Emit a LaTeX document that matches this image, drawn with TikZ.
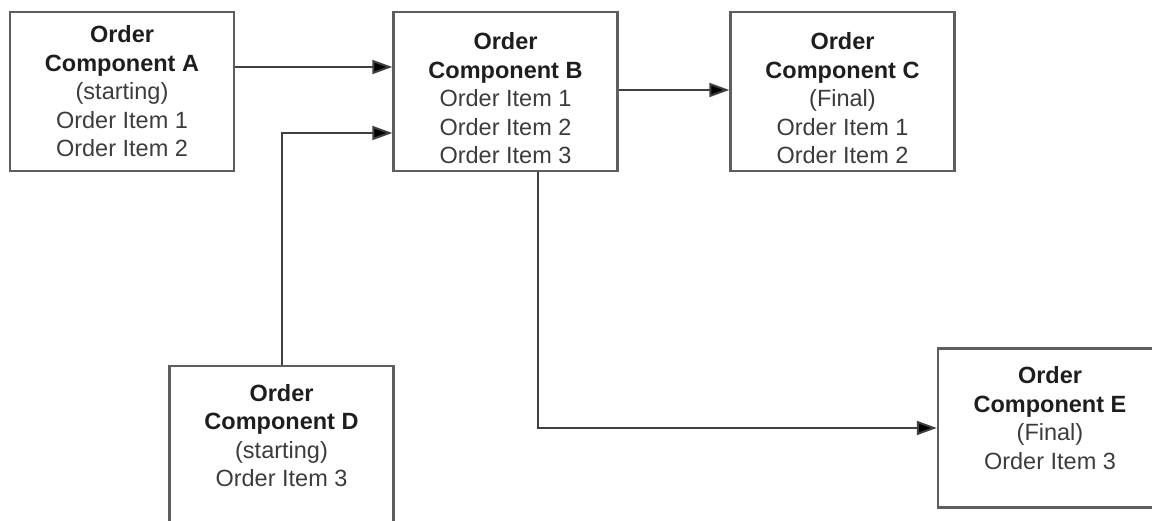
\documentclass[tikz,border=0pt]{standalone}
\usepackage{fontspec}
\setmainfont{Liberation Sans}
\usepackage{xcolor}
\usepackage{tikz}
\usetikzlibrary{arrows.meta}

\definecolor{boxline}{HTML}{5E5E5E}
\definecolor{linkline}{HTML}{404040}
\definecolor{titletext}{HTML}{1E1E1E}
\definecolor{itemtext}{HTML}{3C3C3C}

\newcommand{\comptitle}[1]{\textbf{\color{titletext}#1}}

\begin{document}
\begin{tikzpicture}[x=1pt,y=-1pt,
    comp/.style={draw=boxline, line width=2.4pt, minimum width=224pt,
      minimum height=159pt, inner sep=0pt, align=center, text=itemtext,
      font=\fontsize{23.5}{28.5}\selectfont},
    link/.style={draw=linkline, line width=2pt,
      -{Triangle[length=20pt,width=14pt,fill=black]}}]

      % Page frame
      \useasboundingbox (0,0) rectangle (1152,521);
      \clip (0,0) rectangle (1152,521);

      % Top row
      \node[comp] (A) at (122,91.5)
        {\comptitle{Order}\\\comptitle{Component A}\\(starting)\\Order Item 1\\Order Item 2};
      \node[comp] (B) at (505.5,91.5)
        {\mbox{}\\[2pt]\comptitle{Order}\\\comptitle{Component B}\\Order Item 1\\Order Item 2\\Order Item 3};
      \node[comp] (C) at (842.5,91.5)
        {\mbox{}\\[2pt]\comptitle{Order}\\\comptitle{Component C}\\(Final)\\Order Item 1\\Order Item 2};

      % Bottom row
      \node[comp] (D) at (281.5,445.5)
        {\comptitle{Order}\\\comptitle{Component D}\\(starting)\\Order Item 3\\[-8pt]\mbox{}};
      \node[comp] (E) at (1050,428)
        {\comptitle{Order}\\\comptitle{Component E}\\(Final)\\Order Item 3\\[-8pt]\mbox{}};

      % Links
      \draw[link] ([yshift=24.5pt]A.east) -- ([yshift=24.5pt]A.east -| B.west);
      \draw[link] (D.north) |- ([yshift=-41.5pt]B.west);
      \draw[link] ([yshift=1.5pt]B.east) -- ([yshift=1.5pt]B.east -| C.west);
      \draw[link] ([xshift=32.5pt]B.south) |- (E.west);

\end{tikzpicture}
\end{document}
